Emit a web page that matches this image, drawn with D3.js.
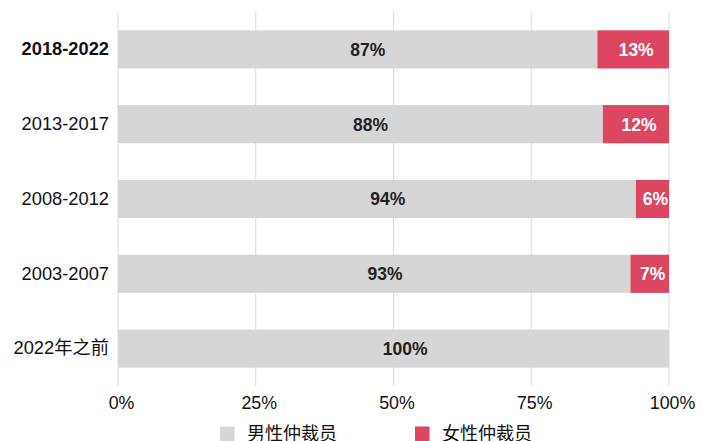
<!DOCTYPE html>
<html>
<head>
<meta charset="utf-8">
<script src="https://cdn.jsdelivr.net/npm/d3@7"></script>
<style>
  body { margin: 0; background: #fff; }
  svg text { font-family: "Liberation Sans", Arial, "Noto Sans CJK SC", sans-serif; }
</style>
</head>
<body>
<div id="chart"></div>
<script>
const periods = ['2018-2022', '2013-2017', '2008-2012', '2003-2007', '2022年之前'];
const male = [87, 88, 94, 93, 100];
const female = [13, 12, 6, 7, 0];
const ticks = [0, 25, 50, 75, 100];
const seriesNames = ['男性仲裁员', '女性仲裁员'];
const colors = ['#d6d6d6', '#dc4661'];

const width = 713, height = 441;
const margin = { top: 12, right: 44, bottom: 55, left: 118 };
const w = width - margin.left - margin.right;
const h = height - margin.top - margin.bottom;

const svg = d3.select('#chart').append('svg')
    .attr('width', width)
    .attr('height', height);
const g = svg.append('g')
    .attr('transform', `translate(${margin.left},${margin.top})`);

const x = d3.scaleLinear().domain([0, 100]).range([0, w]);
const y = d3.scaleBand().domain(periods).range([0, h]).paddingInner(0.49).paddingOuter(0.245);

// gridlines
g.selectAll('.grid')
    .data(ticks)
    .enter().append('line')
    .attr('x1', d => x(d)).attr('x2', d => x(d))
    .attr('y1', 0).attr('y2', h)
    .attr('stroke', '#d9d9d9')
    .attr('stroke-width', 1);

// x axis labels
const xAxis = g.append('g')
    .attr('transform', `translate(0,${h})`)
    .call(d3.axisBottom(x).tickValues(ticks).tickFormat(d => d + '%').tickSize(0).tickPadding(10));
xAxis.select('.domain').remove();
xAxis.selectAll('text')
    .attr('font-size', 17.8)
    .attr('fill', '#111')
    .attr('dx', 3)
    .attr('font-family', '"Liberation Sans", Arial, sans-serif');

// y axis labels
const yAxis = g.append('g')
    .call(d3.axisLeft(y).tickSize(0).tickPadding(9));
yAxis.select('.domain').remove();
yAxis.selectAll('text')
    .attr('font-size', 18.3)
    .attr('fill', '#111')
    .attr('font-weight', (d, i) => i === 0 ? 'bold' : 'normal')
    .attr('font-family', '"Liberation Sans", Arial, "Noto Sans CJK SC", sans-serif');

const rows = periods.map((p, i) => ({ period: p, male: male[i], female: female[i] }));

// male segments
g.selectAll('.male')
    .data(rows)
    .enter().append('rect')
    .attr('x', x(0))
    .attr('y', d => y(d.period))
    .attr('width', d => x(d.male) - x(0))
    .attr('height', y.bandwidth())
    .attr('fill', colors[0]);

// female segments
g.selectAll('.female')
    .data(rows.filter(d => d.female > 0))
    .enter().append('rect')
    .attr('x', d => x(d.male))
    .attr('y', d => y(d.period))
    .attr('width', d => x(d.male + d.female) - x(d.male))
    .attr('height', y.bandwidth())
    .attr('fill', colors[1]);

// labels
g.selectAll('.male-label')
    .data(rows)
    .enter().append('text')
    .attr('x', d => x(d.male * 0.521))
    .attr('y', d => y(d.period) + y.bandwidth() / 2)
    .attr('dy', '0.36em')
    .attr('text-anchor', 'middle')
    .attr('font-size', 17.5)
    .attr('font-weight', 'bold')
    .attr('fill', '#222')
    .text(d => d.male + '%');

g.selectAll('.female-label')
    .data(rows.filter(d => d.female > 0))
    .enter().append('text')
    .attr('x', d => x(d.male + d.female / 2) + 3)
    .attr('y', d => y(d.period) + y.bandwidth() / 2)
    .attr('dy', '0.36em')
    .attr('text-anchor', 'middle')
    .attr('font-size', 17.5)
    .attr('font-weight', 'bold')
    .attr('fill', '#fff')
    .text(d => d.female + '%');

// legend
const legend = svg.append('g').attr('transform', 'translate(220,426.5)');
const items = legend.selectAll('.item')
    .data(seriesNames)
    .enter().append('g')
    .attr('transform', (d, i) => `translate(${i * 195},0)`);
items.append('rect')
    .attr('width', 14.5).attr('height', 15)
    .attr('fill', (d, i) => colors[i]);
items.append('text')
    .attr('x', 27).attr('y', 7)
    .attr('dy', '0.36em')
    .attr('font-size', 18)
    .attr('fill', '#111')
    .attr('font-family', '"Noto Sans CJK SC", sans-serif')
    .text(d => d);
</script>
</body>
</html>
